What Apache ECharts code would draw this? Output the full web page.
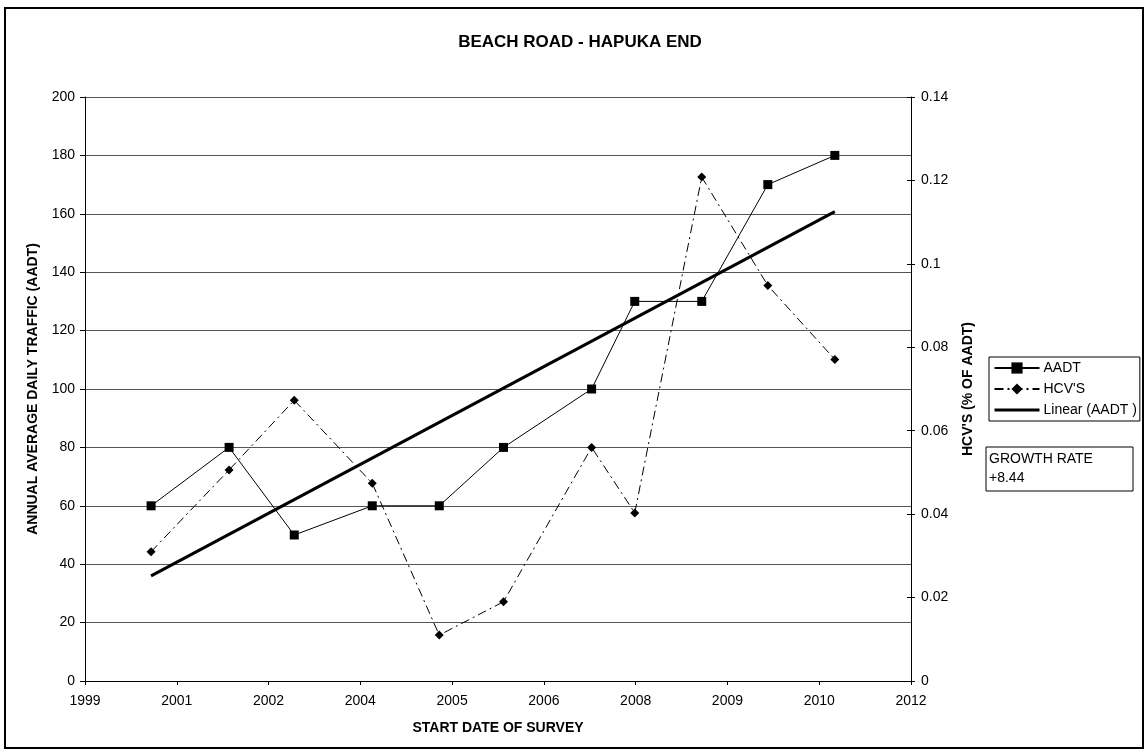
<!DOCTYPE html>
<html>
<head>
<meta charset="utf-8">
<script src="https://cdn.jsdelivr.net/npm/echarts@6/dist/echarts.min.js"></script>
<style>
html,body{margin:0;padding:0;background:#fff;}
#chart{width:1148px;height:753px;}
</style>
</head>
<body>
<div id="chart"></div>
<script>
// x-axis tick labels (Excel date axis, shown as years)
const tickLabels = ['1999','2001','2002','2004','2005','2006','2008','2009','2010','2012'];
// survey positions, in tick-interval units from the first tick
const surveyX = [0.72, 1.57, 2.28, 3.13, 3.86, 4.56, 5.52, 5.99, 6.72, 7.44, 8.17];
// annual average daily traffic
const aadt = [60, 80, 50, 60, 60, 80, 100, 130, 130, 170, 180];
// heavy commercial vehicles (fraction of AADT)
const hcv = [0.031, 0.0506, 0.0673, 0.0474, 0.011, 0.019, 0.056, 0.0403, 0.1208, 0.0948, 0.0771];
const growthText = ['GROWTH RATE', '+8.44'];

// least-squares linear trend of AADT (as Excel's trendline)
const n = surveyX.length;
const mx = surveyX.reduce((a, b) => a + b, 0) / n;
const my = aadt.reduce((a, b) => a + b, 0) / n;
let sxy = 0, sxx = 0;
for (let i = 0; i < n; i++) { sxy += (surveyX[i] - mx) * (aadt[i] - my); sxx += (surveyX[i] - mx) ** 2; }
const slope = sxy / sxx, icpt = my - slope * mx;
const trend = [surveyX[0], surveyX[n - 1]].map(x => [x, icpt + slope * x]);

const FONT = 'Liberation Sans, Arial, sans-serif';
const chart = echarts.init(document.getElementById('chart'));
chart.setOption({
  animation: false,
  backgroundColor: '#fff',
  textStyle: { fontFamily: FONT, color: '#000' },
  graphic: [
    { type: 'rect', shape: { x: 5, y: 8, width: 1138, height: 740 },
      style: { fill: 'none', stroke: '#000', lineWidth: 2 }, z: 0 },
    { type: 'text', x: 580, y: 34,
      style: { text: 'BEACH ROAD - HAPUKA END', font: 'bold 17px ' + FONT, fill: '#000',
               textAlign: 'center', textVerticalAlign: 'top' } },
    { type: 'rect', shape: { x: 986, y: 447, width: 147, height: 44 },
      style: { fill: '#fff', stroke: '#000', lineWidth: 1 } },
    { type: 'text', left: 989, top: 450,
      style: { text: growthText.join('\n'), font: '14px ' + FONT, fill: '#000', lineHeight: 19 } }
  ],
  legend: {
    orient: 'vertical', left: 989, top: 357,
    padding: [4, 3, 4, 4], itemGap: 7, itemWidth: 45, itemHeight: 14,
    borderColor: '#000', borderWidth: 1, backgroundColor: '#fff',
    textStyle: { fontSize: 14, fontFamily: FONT, color: '#000', padding: [0, 0, 0, -1] },
    data: [
      'AADT',
      "HCV'S",
      { name: 'Linear (AADT )', itemStyle: { opacity: 0 }, lineStyle: { width: 3, opacity: 1 } }
    ]
  },
  grid: { left: 85, right: 237, top: 97, bottom: 72 },
  xAxis: {
    type: 'value', min: 0, max: 9, interval: 1,
    name: 'START DATE OF SURVEY', nameLocation: 'middle', nameGap: 40,
    nameTextStyle: { fontWeight: 'bold', fontSize: 14, fontFamily: FONT, color: '#000' },
    axisLine: { lineStyle: { color: '#000', width: 1 } },
    axisTick: { show: true, length: 4, lineStyle: { color: '#000' } },
    axisLabel: { fontSize: 14, color: '#000', margin: 13, formatter: v => tickLabels[Math.round(v)] },
    splitLine: { show: false }
  },
  yAxis: [
    {
      type: 'value', min: 0, max: 200, interval: 20, position: 'left',
      name: 'ANNUAL AVERAGE DAILY TRAFFIC (AADT)', nameLocation: 'middle', nameGap: 45,
      nameTextStyle: { fontWeight: 'bold', fontSize: 14, fontFamily: FONT, color: '#000' },
      axisLine: { show: true, lineStyle: { color: '#000', width: 1 } },
      axisTick: { show: true, length: 5, lineStyle: { color: '#000' } },
      axisLabel: { fontSize: 14, color: '#000', margin: 10 },
      splitLine: { show: true, lineStyle: { color: '#555', width: 1 } }
    },
    {
      type: 'value', min: 0, max: 0.14, interval: 0.02, position: 'right',
      name: "HCV'S (% OF AADT)", nameLocation: 'middle', nameGap: 50, nameRotate: 90,
      nameTextStyle: { fontWeight: 'bold', fontSize: 14, fontFamily: FONT, color: '#000' },
      axisLine: { show: true, lineStyle: { color: '#000', width: 1 } },
      axisTick: { show: true, length: 4, lineStyle: { color: '#000' } },
      axisLabel: { fontSize: 14, color: '#000', margin: 10 },
      splitLine: { show: false }
    },
    {
      type: 'value', min: 0, max: 0.14, interval: 0.02, position: 'right',
      axisLine: { show: false },
      axisTick: { show: true, inside: true, length: 4, lineStyle: { color: '#000' } },
      axisLabel: { show: false }, splitLine: { show: false }
    }
  ],
  series: [
    {
      name: 'AADT', type: 'line', yAxisIndex: 0,
      data: surveyX.map((x, i) => [x, aadt[i]]),
      symbol: 'rect', symbolSize: 9, z: 4,
      lineStyle: { color: '#000', width: 1 },
      itemStyle: { color: '#000' }
    },
    {
      name: "HCV'S", type: 'line', yAxisIndex: 1,
      data: surveyX.map((x, i) => [x, hcv[i]]),
      symbol: 'diamond', symbolSize: 9, z: 3,
      lineStyle: { color: '#000', width: 1, type: [9, 4, 2, 4] },
      itemStyle: { color: '#000' }
    },
    {
      name: 'Linear (AADT )', type: 'line', yAxisIndex: 0,
      data: trend, symbol: 'none', showSymbol: false, z: 2,
      lineStyle: { color: '#000', width: 3 },
      itemStyle: { color: '#000' }
    }
  ]
});
</script>
</body>
</html>
